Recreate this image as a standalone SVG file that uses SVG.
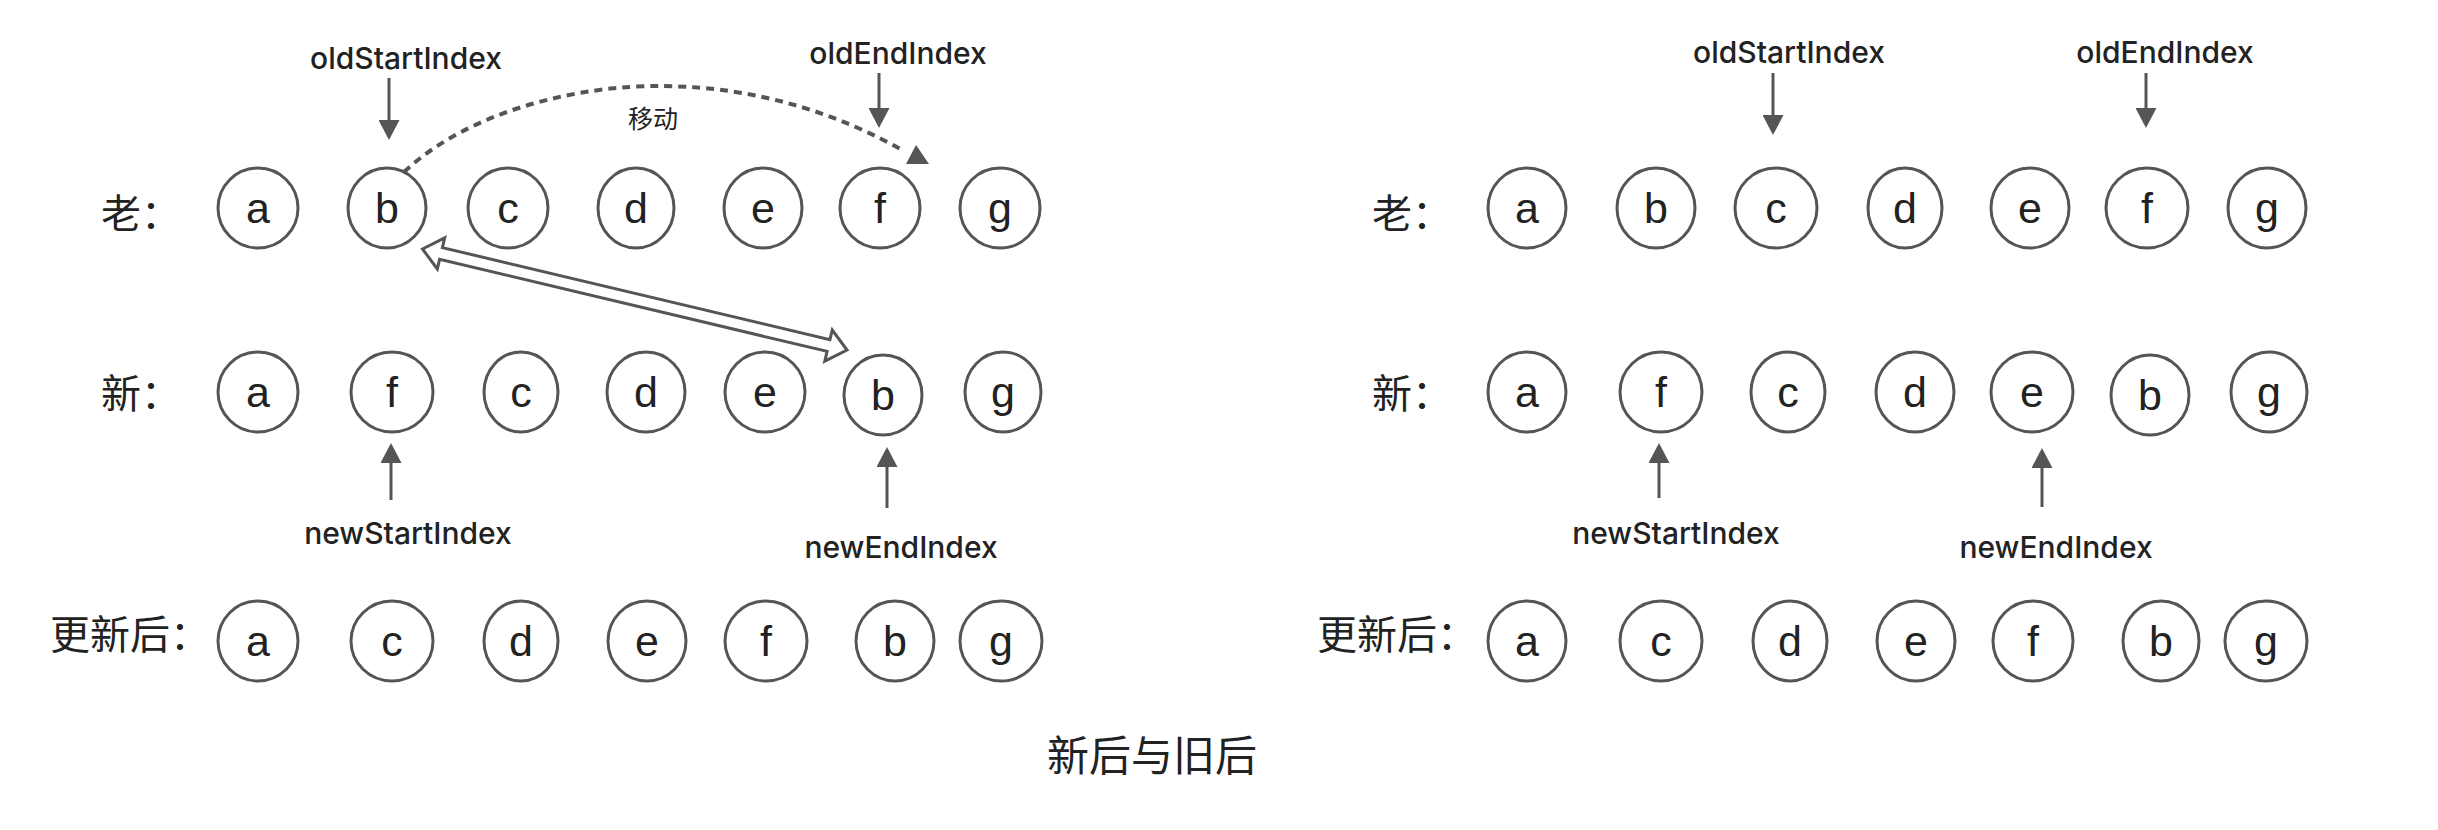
<svg xmlns="http://www.w3.org/2000/svg" width="2438" height="830" viewBox="0 0 2438 830">
<defs>
<style>
.n ellipse{fill:#fff;stroke:#555;stroke-width:3}
.n text{font-family:"Liberation Sans",Arial,sans-serif;font-size:43px;fill:#222;text-anchor:middle}
.lbl{font-family:"Noto Sans CJK SC",sans-serif;font-size:40px;fill:#222}
.idx{font-family:Inter,"Liberation Sans",sans-serif;font-size:30px;font-weight:500;fill:#222;text-anchor:middle}
.cap{font-family:"Noto Sans CJK SC",sans-serif;font-size:42px;fill:#222;text-anchor:middle}
.mv{font-family:"Noto Sans CJK SC",sans-serif;font-size:25px;fill:#222;text-anchor:middle}
.ar{stroke:#555;stroke-width:3;fill:none;marker-end:url(#ah)}
</style>
<marker id="ah" viewBox="0 0 20 21" refX="2" refY="10.5" markerWidth="20" markerHeight="21" markerUnits="userSpaceOnUse" orient="auto"><path d="M0,0 L20,10.5 L0,21 Z" fill="#555"/></marker>
</defs>
<rect width="2438" height="830" fill="#fff"/>

<!-- row labels -->
<g id="labels">
<text class="lbl" x="101" y="228">老：</text>
<text class="lbl" x="101" y="408">新：</text>
<text class="lbl" x="50" y="649">更新后：</text>
<text class="lbl" x="1372" y="228">老：</text>
<text class="lbl" x="1372" y="408">新：</text>
<text class="lbl" x="1317" y="649">更新后：</text>
<text class="idx" x="406" y="69">oldStartIndex</text>
<text class="idx" x="898" y="64">oldEndIndex</text>
<text class="idx" x="408" y="544">newStartIndex</text>
<text class="idx" x="901" y="558">newEndIndex</text>
<text class="idx" x="1789" y="63">oldStartIndex</text>
<text class="idx" x="2165" y="63">oldEndIndex</text>
<text class="idx" x="1676" y="544">newStartIndex</text>
<text class="idx" x="2056" y="558">newEndIndex</text>
<text class="mv" x="653" y="128">移动</text>
<text class="cap" x="1152" y="771">新后与旧后</text>
</g>

<!-- connectors -->
<g id="connectors">
<line class="ar" x1="389" y1="78" x2="389" y2="122"/>
<line class="ar" x1="879" y1="73" x2="879" y2="110"/>
<line class="ar" x1="391" y1="500" x2="391" y2="461"/>
<line class="ar" x1="887" y1="508" x2="887" y2="465"/>
<line class="ar" x1="1773" y1="73" x2="1773" y2="117"/>
<line class="ar" x1="2146" y1="73" x2="2146" y2="110"/>
<line class="ar" x1="1659" y1="498" x2="1659" y2="461"/>
<line class="ar" x1="2042" y1="507" x2="2042" y2="466"/>
<path d="M404,172 C470,110 580,85 663,86 C760,87 840,115 904,151" fill="none" stroke="#555" stroke-width="4" stroke-dasharray="8 6"/>
<polygon points="916,145 906,164 929,164" fill="#555"/>
<polygon points="422.5,249 444.7,237.9 442.4,247.6 829.9,339.7 832.3,330 847,350 824.8,361.1 827.1,351.4 439.6,259.3 437.3,269" fill="#fff" stroke="#555" stroke-width="3" stroke-linejoin="miter"/>
</g>

<!-- left old -->
<g id="lo-a" class="n"><ellipse cx="258" cy="208" rx="40" ry="40"/><text x="258" y="223">a</text></g>
<g id="lo-b" class="n"><ellipse cx="387" cy="208" rx="39" ry="40"/><text x="387" y="223">b</text></g>
<g id="lo-c" class="n"><ellipse cx="508" cy="208" rx="40" ry="40"/><text x="508" y="223">c</text></g>
<g id="lo-d" class="n"><ellipse cx="636" cy="208" rx="38" ry="40"/><text x="636" y="223">d</text></g>
<g id="lo-e" class="n"><ellipse cx="763" cy="208" rx="39" ry="40"/><text x="763" y="223">e</text></g>
<g id="lo-f" class="n"><ellipse cx="880" cy="208" rx="40" ry="40"/><text x="880" y="223">f</text></g>
<g id="lo-g" class="n"><ellipse cx="1000" cy="208" rx="40" ry="40"/><text x="1000" y="223">g</text></g>
<!-- left new -->
<g id="ln-a" class="n"><ellipse cx="258" cy="392" rx="40" ry="40"/><text x="258" y="407">a</text></g>
<g id="ln-f" class="n"><ellipse cx="392" cy="392" rx="41" ry="40"/><text x="392" y="407">f</text></g>
<g id="ln-c" class="n"><ellipse cx="521" cy="392" rx="37" ry="40"/><text x="521" y="407">c</text></g>
<g id="ln-d" class="n"><ellipse cx="646" cy="392" rx="39" ry="40"/><text x="646" y="407">d</text></g>
<g id="ln-e" class="n"><ellipse cx="765" cy="392" rx="40" ry="40"/><text x="765" y="407">e</text></g>
<g id="ln-b" class="n"><ellipse cx="883" cy="395" rx="39" ry="40"/><text x="883" y="410">b</text></g>
<g id="ln-g" class="n"><ellipse cx="1003" cy="392" rx="38" ry="40"/><text x="1003" y="407">g</text></g>
<!-- left updated -->
<g id="lu-a" class="n"><ellipse cx="258" cy="641" rx="40" ry="40"/><text x="258" y="656">a</text></g>
<g id="lu-c" class="n"><ellipse cx="392" cy="641" rx="41" ry="40"/><text x="392" y="656">c</text></g>
<g id="lu-d" class="n"><ellipse cx="521" cy="641" rx="37" ry="40"/><text x="521" y="656">d</text></g>
<g id="lu-e" class="n"><ellipse cx="647" cy="641" rx="39" ry="40"/><text x="647" y="656">e</text></g>
<g id="lu-f" class="n"><ellipse cx="766" cy="641" rx="41" ry="40"/><text x="766" y="656">f</text></g>
<g id="lu-b" class="n"><ellipse cx="895" cy="641" rx="39" ry="40"/><text x="895" y="656">b</text></g>
<g id="lu-g" class="n"><ellipse cx="1001" cy="641" rx="41" ry="40"/><text x="1001" y="656">g</text></g>
<!-- right old -->
<g id="ro-a" class="n"><ellipse cx="1527" cy="208" rx="39" ry="40"/><text x="1527" y="223">a</text></g>
<g id="ro-b" class="n"><ellipse cx="1656" cy="208" rx="39" ry="40"/><text x="1656" y="223">b</text></g>
<g id="ro-c" class="n"><ellipse cx="1776" cy="208" rx="41" ry="40"/><text x="1776" y="223">c</text></g>
<g id="ro-d" class="n"><ellipse cx="1905" cy="208" rx="37" ry="40"/><text x="1905" y="223">d</text></g>
<g id="ro-e" class="n"><ellipse cx="2030" cy="208" rx="39" ry="40"/><text x="2030" y="223">e</text></g>
<g id="ro-f" class="n"><ellipse cx="2147" cy="208" rx="41" ry="40"/><text x="2147" y="223">f</text></g>
<g id="ro-g" class="n"><ellipse cx="2267" cy="208" rx="39" ry="40"/><text x="2267" y="223">g</text></g>
<!-- right new -->
<g id="rn-a" class="n"><ellipse cx="1527" cy="392" rx="39" ry="40"/><text x="1527" y="407">a</text></g>
<g id="rn-f" class="n"><ellipse cx="1661" cy="392" rx="41" ry="40"/><text x="1661" y="407">f</text></g>
<g id="rn-c" class="n"><ellipse cx="1788" cy="392" rx="37" ry="40"/><text x="1788" y="407">c</text></g>
<g id="rn-d" class="n"><ellipse cx="1915" cy="392" rx="39" ry="40"/><text x="1915" y="407">d</text></g>
<g id="rn-e" class="n"><ellipse cx="2032" cy="392" rx="41" ry="40"/><text x="2032" y="407">e</text></g>
<g id="rn-b" class="n"><ellipse cx="2150" cy="395" rx="39" ry="40"/><text x="2150" y="410">b</text></g>
<g id="rn-g" class="n"><ellipse cx="2269" cy="392" rx="38" ry="40"/><text x="2269" y="407">g</text></g>
<!-- right updated -->
<g id="ru-a" class="n"><ellipse cx="1527" cy="641" rx="39" ry="40"/><text x="1527" y="656">a</text></g>
<g id="ru-c" class="n"><ellipse cx="1661" cy="641" rx="41" ry="40"/><text x="1661" y="656">c</text></g>
<g id="ru-d" class="n"><ellipse cx="1790" cy="641" rx="37" ry="40"/><text x="1790" y="656">d</text></g>
<g id="ru-e" class="n"><ellipse cx="1916" cy="641" rx="39" ry="40"/><text x="1916" y="656">e</text></g>
<g id="ru-f" class="n"><ellipse cx="2033" cy="641" rx="40" ry="40"/><text x="2033" y="656">f</text></g>
<g id="ru-b" class="n"><ellipse cx="2161" cy="641" rx="38" ry="40"/><text x="2161" y="656">b</text></g>
<g id="ru-g" class="n"><ellipse cx="2266" cy="641" rx="41" ry="40"/><text x="2266" y="656">g</text></g>
</svg>
